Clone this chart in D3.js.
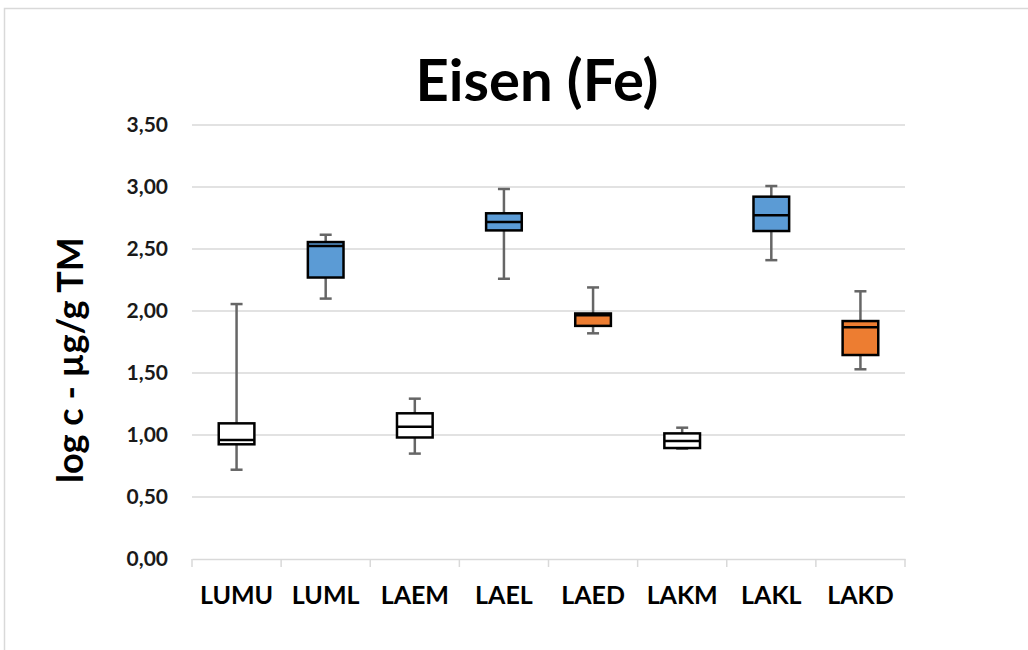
<!DOCTYPE html>
<html>
<head>
<meta charset="utf-8">
<script src="https://cdn.jsdelivr.net/npm/d3@7"></script>
<style>
  body { margin: 0; background: #fff; }
  text { font-family: Lato, "Open Sans", sans-serif; font-weight: bold; }
</style>
</head>
<body>
<div id="chart"></div>
<script>
// data
var categories = ["LUMU", "LUML", "LAEM", "LAEL", "LAED", "LAKM", "LAKL", "LAKD"];
var whiskerLow = [0.72, 2.10, 0.85, 2.26, 1.82, 0.89, 2.41, 1.53];
var q1 = [0.925, 2.27, 0.98, 2.65, 1.88, 0.895, 2.645, 1.645];
var median = [0.96, 2.525, 1.067, 2.718, 1.965, 0.952, 2.772, 1.868];
var q3 = [1.094, 2.556, 1.175, 2.788, 1.98, 1.013, 2.922, 1.919];
var whiskerHigh = [2.056, 2.615, 1.293, 2.984, 2.19, 1.059, 3.008, 2.159];
var fills = ["#ffffff", "#5b9bd5", "#ffffff", "#5b9bd5", "#ed7d31", "#ffffff", "#5b9bd5", "#ed7d31"];
var yTicks = [0, 0.5, 1, 1.5, 2, 2.5, 3, 3.5];

var W = 1028, H = 650;
var margin = {top: 125, right: 123, bottom: 91, left: 192},
    width = W - margin.left - margin.right,
    height = H - margin.top - margin.bottom;

var data = [];
categories.forEach(function (c, i) {
    data.push({
        "cat": c,
        "lo": whiskerLow[i],
        "q1": q1[i],
        "med": median[i],
        "q3": q3[i],
        "hi": whiskerHigh[i],
        "fill": fills[i]
    });
});

var svg = d3.select("#chart").append("svg")
    .attr("width", W)
    .attr("height", H);

// chart frame
svg.append("rect")
    .attr("x", 4.5).attr("y", 8.5)
    .attr("width", W + 10).attr("height", H + 10)
    .attr("fill", "#fff")
    .attr("stroke", "#d9d9d9")
    .attr("stroke-width", 1.5);

var g = svg.append("g")
    .attr("transform", "translate(" + margin.left + "," + margin.top + ")");

var x = d3.scaleBand().domain(categories).range([0, width]);
var y = d3.scaleLinear().domain([0, 3.5]).range([height, 0]);

// gridlines
g.append("g")
    .selectAll("line")
    .data(yTicks.filter(function (d) { return d > 0; }))
    .enter().append("line")
    .attr("x1", 0).attr("x2", width)
    .attr("y1", function (d) { return y(d); })
    .attr("y2", function (d) { return y(d); })
    .attr("stroke", "#d9d9d9")
    .attr("stroke-width", 1.5);

// y axis labels
var fmt = function (d) { return d3.format(".2f")(d).replace(".", ","); };
var axisY = g.append("g")
    .call(d3.axisLeft(y).tickValues(yTicks).tickFormat(fmt).tickSize(0).tickPadding(24));
axisY.select(".domain").remove();
axisY.selectAll("text")
    .attr("font-size", 21)
    .attr("fill", "#1a1a1a")
    .style("font-family", "Lato, sans-serif")
    .style("font-weight", "bold");

// x axis
var axisX = g.append("g")
    .attr("transform", "translate(0," + height + ")")
    .call(d3.axisBottom(x).tickSize(0).tickPadding(27));
axisX.select(".domain").attr("stroke", "#d9d9d9").attr("stroke-width", 1.5);
axisX.selectAll("text")
    .attr("font-size", 25)
    .attr("fill", "#000")
    .style("font-family", "Lato, sans-serif")
    .style("font-weight", "bold");
// category separators
var bounds = categories.map(function (c) { return x(c); }).concat([width]);
axisX.selectAll(".sep")
    .data(bounds)
    .enter().append("line")
    .attr("class", "sep")
    .attr("x1", function (d) { return d; })
    .attr("x2", function (d) { return d; })
    .attr("y1", 0).attr("y2", 8)
    .attr("stroke", "#d9d9d9")
    .attr("stroke-width", 1.5);

// boxes
var boxW = x.bandwidth() * 0.4;
var capW = 12;
var box = g.selectAll(".box")
    .data(data)
    .enter().append("g")
    .attr("class", "box")
    .attr("transform", function (d) { return "translate(" + (x(d.cat) + x.bandwidth() / 2) + ",0)"; });

box.append("line")
    .attr("x1", 0).attr("x2", 0)
    .attr("y1", function (d) { return y(d.hi); })
    .attr("y2", function (d) { return y(d.q3); })
    .attr("stroke", "#666").attr("stroke-width", 2.5);
box.append("line")
    .attr("x1", 0).attr("x2", 0)
    .attr("y1", function (d) { return y(d.q1); })
    .attr("y2", function (d) { return y(d.lo); })
    .attr("stroke", "#666").attr("stroke-width", 2.5);
box.append("line")
    .attr("x1", -capW / 2).attr("x2", capW / 2)
    .attr("y1", function (d) { return y(d.hi); })
    .attr("y2", function (d) { return y(d.hi); })
    .attr("stroke", "#666").attr("stroke-width", 2.5);
box.append("line")
    .attr("x1", -capW / 2).attr("x2", capW / 2)
    .attr("y1", function (d) { return y(d.lo); })
    .attr("y2", function (d) { return y(d.lo); })
    .attr("stroke", "#666").attr("stroke-width", 2.5);

box.append("rect")
    .attr("x", -boxW / 2)
    .attr("width", boxW)
    .attr("y", function (d) { return y(d.q3); })
    .attr("height", function (d) { return y(d.q1) - y(d.q3); })
    .attr("fill", function (d) { return d.fill; })
    .attr("stroke", "#000")
    .attr("stroke-width", 2.5);
box.append("line")
    .attr("x1", -boxW / 2).attr("x2", boxW / 2)
    .attr("y1", function (d) { return y(d.med); })
    .attr("y2", function (d) { return y(d.med); })
    .attr("stroke", "#000").attr("stroke-width", 2.5);

// title
svg.append("text")
    .attr("x", 537).attr("y", 101)
    .attr("text-anchor", "middle")
    .attr("font-size", 58)
    .attr("fill", "#000")
    .text("Eisen (Fe)");

// y axis title
svg.append("text")
    .attr("transform", "translate(83,360) rotate(-90)")
    .attr("text-anchor", "middle")
    .attr("font-size", 36)
    .attr("fill", "#000")
    .text("log c - µg/g TM");
</script>
</body>
</html>
